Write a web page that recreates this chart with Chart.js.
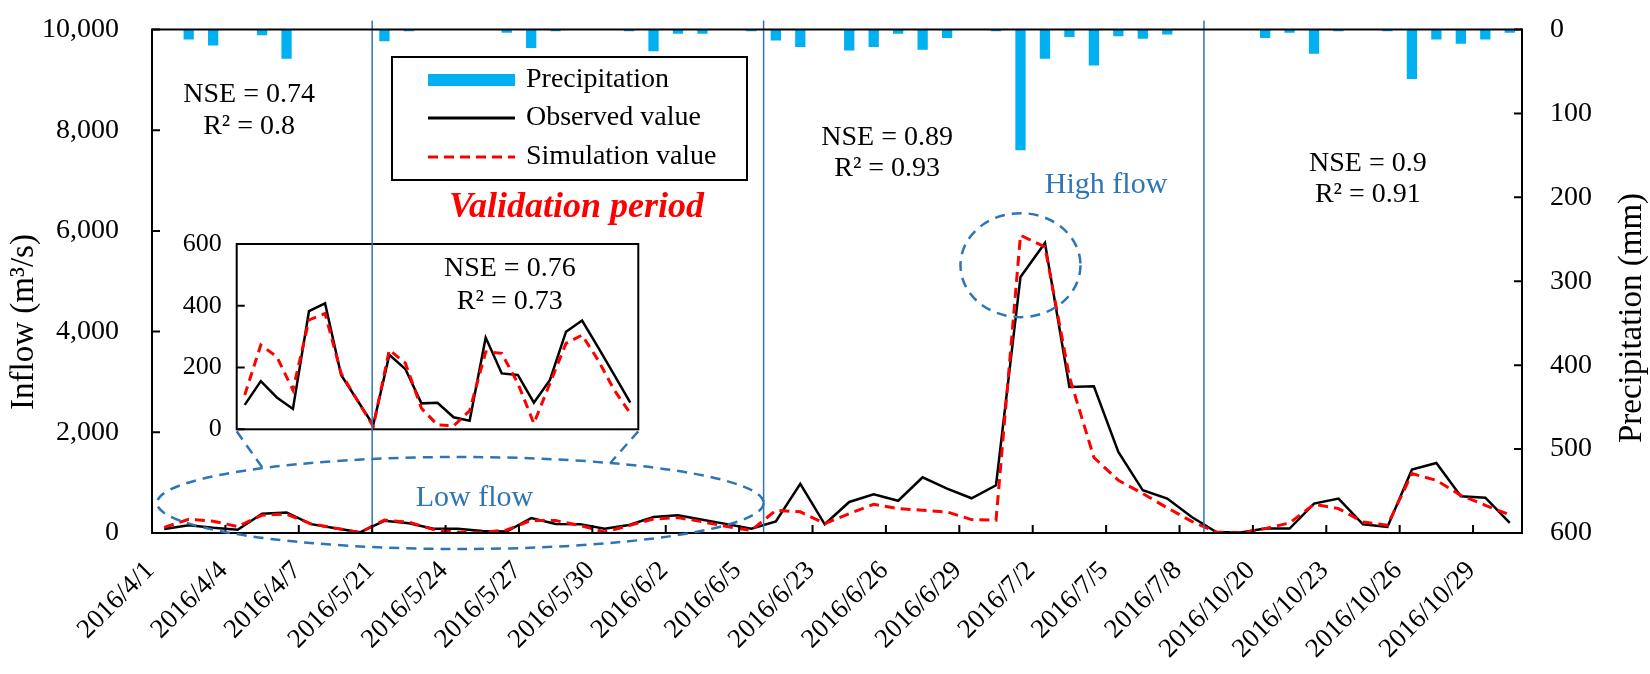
<!doctype html>
<html lang="en">
<head>
  <meta charset="utf-8">
  <title>Inflow - validation period</title>
  <script src="https://cdn.jsdelivr.net/npm/chart.js@4"></script>
  <style>
    html, body { margin: 0; padding: 0; background: #fff; }
    #wrap { position: relative; width: 1650px; height: 674px; }
    #mainChart { position: absolute; left: 0; top: 0; z-index: 2; }
    #insetChart { position: absolute; left: 172px; top: 228px; z-index: 1; }
  </style>
</head>
<body>
  <div id="wrap">
    <canvas id="insetChart" width="477" height="218"></canvas>
    <canvas id="mainChart" width="1650" height="674"></canvas>
  </div>

  <script>
    // === DATA ===
    const dates = [
      "2016/4/1", "2016/4/2", "2016/4/3", "2016/4/4", "2016/4/5", "2016/4/6", "2016/4/7", "2016/4/8", "2016/4/9",
      "2016/5/21", "2016/5/22", "2016/5/23", "2016/5/24", "2016/5/25", "2016/5/26", "2016/5/27", "2016/5/28",
      "2016/5/29", "2016/5/30", "2016/5/31", "2016/6/1", "2016/6/2", "2016/6/3", "2016/6/4", "2016/6/5",
      "2016/6/21", "2016/6/22", "2016/6/23", "2016/6/24", "2016/6/25", "2016/6/26", "2016/6/27", "2016/6/28",
      "2016/6/29", "2016/6/30", "2016/7/1", "2016/7/2", "2016/7/3", "2016/7/4", "2016/7/5", "2016/7/6",
      "2016/7/7", "2016/7/8",
      "2016/10/18", "2016/10/19", "2016/10/20", "2016/10/21", "2016/10/22", "2016/10/23", "2016/10/24",
      "2016/10/25", "2016/10/26", "2016/10/27", "2016/10/28", "2016/10/29", "2016/10/30"
    ];

    // inflow, m3/s
    const observed = [
      79, 156, 103, 66, 383, 408, 176, 95, 14,
      241, 195, 84, 86, 39, 28, 297, 181, 176, 86, 160, 316, 352, 265, 176, 86,
      230, 975, 173, 616, 769, 640, 1105, 882, 690, 948, 5085, 5761, 2900, 2914, 1609, 848, 683, 318,
      20, 10, 87, 87, 583, 683, 173, 119, 1258, 1390, 729, 702, 199
    ];
    const simulated = [
      111, 273, 235, 127, 354, 375, 181, 95, 9,
      257, 214, 68, 14, 11, 60, 251, 246, 149, 19, 149, 278, 305, 224, 127, 52,
      450, 420, 187, 385, 570, 485, 451, 417, 266, 252, 5914, 5681, 3100, 1500, 1047, 782, 500, 230,
      20, 0, 87, 199, 570, 485, 218, 153, 1179, 1047, 749, 550, 360
    ];

    // precipitation, mm (drawn downward from the top)
    const precipitation = [
      0, 12, 19, 0, 7, 35, 0, 0, 0,
      14, 2, 0, 0, 0, 4, 22, 2, 0, 0, 2, 26, 5, 5, 0, 2,
      13, 21, 0, 25, 21, 5, 24, 10, 0, 2, 144, 35, 9, 43, 8, 11, 6, 0,
      0, 0, 10, 4, 29, 2, 0, 2, 59, 12, 17, 12, 4
    ];

    const inflowTicks = [0, 2000, 4000, 6000, 8000, 10000];
    const precipTicks = [0, 100, 200, 300, 400, 500, 600];
    const insetTicks = [0, 200, 400, 600];

    // goodness of fit, one entry per labelled block
    const nseValues = ["0.74", "0.89", "0.9"];
    const r2Values = ["0.8", "0.93", "0.91"];
    const insetNse = "0.76";
    const insetR2 = "0.73";

    // === STYLE ===
    const FONT = '"Liberation Serif", "Times New Roman", serif';
    const BLUE = "#2e75b6";
    const RED = "#ff0000";
    const SKY = "#00b0f0";

    // === HELPERS ===

    function dayNum(s) {
      const [y, m, d] = s.split("/").map(Number);
      return Date.UTC(y, m - 1, d) / 86400000;
    }

    // index where each new (non-contiguous) period begins
    const periodStarts = dates
      .map((d, i) => (i > 0 && dayNum(d) - dayNum(dates[i - 1]) > 1 ? i : -1))
      .filter(i => i > 0);
    const insetEnd = periodStarts[1];
    const peakIndex = simulated.indexOf(Math.max(...simulated));

    function withCommas(v) {
      return String(v).replace(/\B(?=(\d{3})+(?!\d))/g, ",");
    }

    function label(ctx, str, x, y, size, color, style) {
      ctx.font = (style ? style + " " : "") + size + "px " + FONT;
      ctx.fillStyle = color;
      ctx.textAlign = "center";
      ctx.textBaseline = "middle";
      ctx.fillText(str, x, y);
    }

    // fixed axis thickness; tick padding must not push the plot area
    function fixedWidth(w) {
      return s => { s.width = w; s.paddingTop = 0; s.paddingBottom = 0; };
    }

    // === INSET (low flow close-up) ===

    const insetDecor = {
      id: "insetDecor",
      beforeDatasetsDraw(chart) {
        const { ctx, chartArea: a } = chart;
        ctx.save();
        ctx.fillStyle = "#fff";
        ctx.fillRect(a.left, a.top, a.right - a.left, a.bottom - a.top);
        ctx.restore();
      },
      afterDatasetsDraw(chart) {
        const { ctx, chartArea: a, scales: { x, y } } = chart;
        ctx.save();
        ctx.strokeStyle = "#000";
        ctx.lineWidth = 2;
        ctx.strokeRect(a.left, a.top, a.right - a.left, a.bottom - a.top);
        ctx.beginPath();
        y.ticks.forEach(t => {
          const py = y.getPixelForValue(t.value);
          ctx.moveTo(a.left, py);
          ctx.lineTo(a.left + 8, py);
        });
        ctx.stroke();
        const cx = x.getPixelForValue(16.5);
        label(ctx, "NSE = " + insetNse, cx, y.getPixelForValue(520), 28, "#000");
        label(ctx, "R\u00B2 = " + insetR2, cx, y.getPixelForValue(413), 28, "#000");
        ctx.restore();
      }
    };

    const insetChart = new Chart(document.getElementById("insetChart"), {
      type: "line",
      data: {
        labels: dates.slice(0, insetEnd),
        datasets: [
          {
            label: "Simulation value",
            data: simulated.slice(0, insetEnd),
            borderColor: RED,
            borderDash: [9, 6],
            borderWidth: 3,
            pointRadius: 0,
            order: 1
          },
          {
            label: "Observed value",
            data: observed.slice(0, insetEnd),
            borderColor: "#000",
            borderWidth: 2.5,
            pointRadius: 0,
            order: 2
          }
        ]
      },
      options: {
        responsive: false,
        animation: false,
        devicePixelRatio: 1,
        layout: { padding: { top: 16, right: 10.7, bottom: 16.7, left: 0 } },
        plugins: { legend: { display: false }, tooltip: { enabled: false } },
        scales: {
          x: { display: false, offset: true },
          y: {
            min: insetTicks[0],
            max: insetTicks[insetTicks.length - 1],
            afterBuildTicks: s => { s.ticks = insetTicks.map(v => ({ value: v })); },
            ticks: { padding: 15, color: "#000", font: { family: FONT, size: 26 } },
            grid: { display: false, drawTicks: false },
            border: { display: false },
            afterFit: fixedWidth(64.7)
          }
        }
      },
      plugins: [insetDecor]
    });

    // === MAIN CHART DECORATION: frame, ticks, separators, notes, legend ===

    const mainDecor = {
      id: "mainDecor",
      afterDatasetsDraw(chart) {
        const { ctx, chartArea: a, scales: { x, yQ, yP } } = chart;
        const cat = x.getPixelForValue(1) - x.getPixelForValue(0);
        const edge = i => x.getPixelForValue(i) - cat / 2;
        ctx.save();

        // period separators
        ctx.strokeStyle = BLUE;
        ctx.lineWidth = 1.5;
        periodStarts.forEach(i => {
          ctx.beginPath();
          ctx.moveTo(edge(i), a.top - 9);
          ctx.lineTo(edge(i), a.bottom);
          ctx.stroke();
        });

        // frame and inward ticks
        ctx.strokeStyle = "#000";
        ctx.lineWidth = 2;
        ctx.strokeRect(a.left, a.top, a.right - a.left, a.bottom - a.top);
        ctx.beginPath();
        for (let i = 0; i <= dates.length; i += 3) {
          ctx.moveTo(edge(i), a.bottom);
          ctx.lineTo(edge(i), a.bottom - 8);
        }
        yQ.ticks.forEach(t => {
          const py = yQ.getPixelForValue(t.value);
          ctx.moveTo(a.left, py);
          ctx.lineTo(a.left + 8, py);
        });
        yP.ticks.forEach(t => {
          const py = yP.getPixelForValue(t.value);
          ctx.moveTo(a.right, py);
          ctx.lineTo(a.right - 8, py);
        });
        ctx.stroke();

        // dashed call-outs
        ctx.strokeStyle = BLUE;
        ctx.lineWidth = 2.5;
        ctx.setLineDash([10, 7]);
        const lx0 = edge(0) + 5, lx1 = edge(insetEnd);
        const low = { cx: (lx0 + lx1) / 2, cy: a.bottom - 30, rx: (lx1 - lx0) / 2, ry: 46 };
        ctx.beginPath();
        ctx.ellipse(low.cx, low.cy, low.rx, low.ry, 0, 0, Math.PI * 2);
        ctx.stroke();
        ctx.beginPath();
        ctx.ellipse(x.getPixelForValue(peakIndex), yQ.getPixelForValue(5320), 60, 52, 0, 0, Math.PI * 2);
        ctx.stroke();

        // connectors from the inset corners to the low-flow ellipse
        const ia = insetChart.chartArea;
        const ox = insetChart.canvas.offsetLeft, oy = insetChart.canvas.offsetTop;
        const topOf = px => low.cy - low.ry * Math.sqrt(1 - Math.pow((px - low.cx) / low.rx, 2));
        [[ox + ia.left, ox + ia.left + 26], [ox + ia.right, ox + ia.right - 28]].forEach(([sx, ex]) => {
          ctx.beginPath();
          ctx.moveTo(sx, oy + ia.bottom + 2);
          ctx.lineTo(ex, topOf(ex));
          ctx.stroke();
        });
        ctx.setLineDash([]);

        // fit statistics
        const notes = [
          { i: 3.47, v: 8700 },
          { i: 29.55, v: 7860 },
          { i: 49.2, v: 7345 }
        ];
        notes.forEach((n, k) => {
          const px = x.getPixelForValue(n.i);
          label(ctx, "NSE = " + nseValues[k], px, yQ.getPixelForValue(n.v), 28, "#000");
          label(ctx, "R\u00B2 = " + r2Values[k], px, yQ.getPixelForValue(n.v - 620), 28, "#000");
        });

        label(ctx, "Validation period", x.getPixelForValue(16.85), yQ.getPixelForValue(6470), 36, RED, "italic bold");
        label(ctx, "Low flow", x.getPixelForValue(12.68), yQ.getPixelForValue(690), 30, BLUE);
        label(ctx, "High flow", x.getPixelForValue(38.5), yQ.getPixelForValue(6900), 30, BLUE);

        // legend
        const L = { left: 392, top: 57, right: 747, bottom: 180 };
        ctx.fillStyle = "#fff";
        ctx.fillRect(L.left, L.top, L.right - L.left, L.bottom - L.top);
        ctx.strokeStyle = "#000";
        ctx.lineWidth = 2;
        ctx.strokeRect(L.left, L.top, L.right - L.left, L.bottom - L.top);
        const sets = chart.data.datasets;
        const rows = [80, 118, 157];
        ["Precipitation", "Observed value", "Simulation value"].forEach((name, k) => {
          const ds = sets.find(d => d.label === name);
          const ry = rows[k];
          if (ds.type === "bar") {
            ctx.fillStyle = ds.backgroundColor;
            ctx.fillRect(428, ry - 6, 87, 12);
          } else {
            ctx.strokeStyle = ds.borderColor;
            ctx.lineWidth = 3;
            ctx.setLineDash(ds.borderDash || []);
            ctx.beginPath();
            ctx.moveTo(428, ry);
            ctx.lineTo(515, ry);
            ctx.stroke();
            ctx.setLineDash([]);
          }
          ctx.font = "28px " + FONT;
          ctx.fillStyle = "#000";
          ctx.textAlign = "left";
          ctx.textBaseline = "middle";
          ctx.fillText(name, 526, ry);
        });

        // axis titles
        ctx.font = "33px " + FONT;
        ctx.fillStyle = "#000";
        ctx.textAlign = "center";
        ctx.textBaseline = "middle";
        ctx.translate(24, 322);
        ctx.rotate(-Math.PI / 2);
        ctx.fillText("Inflow (m\u00B3/s)", 0, 0);
        ctx.setTransform(1, 0, 0, 1, 0, 0);
        ctx.translate(1632, 318);
        ctx.rotate(-Math.PI / 2);
        ctx.fillText("Precipitation (mm)", 0, 0);

        ctx.restore();
      }
    };

    // === MAIN CHART ===

    new Chart(document.getElementById("mainChart"), {
      type: "bar",
      data: {
        labels: dates,
        datasets: [
          {
            type: "bar",
            label: "Precipitation",
            data: precipitation,
            yAxisID: "yP",
            backgroundColor: SKY,
            barPercentage: 0.42,
            categoryPercentage: 1,
            order: 3
          },
          {
            type: "line",
            label: "Observed value",
            data: observed,
            yAxisID: "yQ",
            borderColor: "#000",
            borderWidth: 2.5,
            pointRadius: 0,
            order: 2
          },
          {
            type: "line",
            label: "Simulation value",
            data: simulated,
            yAxisID: "yQ",
            borderColor: RED,
            borderDash: [10, 6],
            borderWidth: 3,
            pointRadius: 0,
            order: 1
          }
        ]
      },
      options: {
        responsive: false,
        animation: false,
        devicePixelRatio: 1,
        layout: { padding: { top: 29.5, right: 0, bottom: 0, left: 0 } },
        plugins: { legend: { display: false }, tooltip: { enabled: false } },
        scales: {
          x: {
            offset: true,
            grid: { display: false, drawTicks: false },
            border: { display: false },
            ticks: {
              autoSkip: false,
              minRotation: 45,
              maxRotation: 45,
              padding: 22,
              labelOffset: -14,
              color: "#000",
              font: { family: FONT, size: 27 },
              callback: function (value, index) {
                return index % 3 === 0 ? this.getLabelForValue(value) : "";
              }
            },
            afterFit: s => { s.height = 141; s.paddingLeft = 0; s.paddingRight = 0; }
          },
          yQ: {
            position: "left",
            min: inflowTicks[0],
            max: inflowTicks[inflowTicks.length - 1],
            afterBuildTicks: s => { s.ticks = inflowTicks.map(v => ({ value: v })); },
            ticks: { padding: 33, color: "#000", font: { family: FONT, size: 28 }, callback: v => withCommas(v) },
            grid: { display: false, drawTicks: false },
            border: { display: false },
            afterFit: fixedWidth(152)
          },
          yP: {
            position: "right",
            reverse: true,
            min: precipTicks[0],
            max: precipTicks[precipTicks.length - 1],
            afterBuildTicks: s => { s.ticks = precipTicks.map(v => ({ value: v })); },
            ticks: { padding: 28, color: "#000", font: { family: FONT, size: 28 } },
            grid: { display: false, drawTicks: false },
            border: { display: false },
            afterFit: fixedWidth(128)
          }
        }
      },
      plugins: [mainDecor]
    });
  </script>
</body>
</html>
